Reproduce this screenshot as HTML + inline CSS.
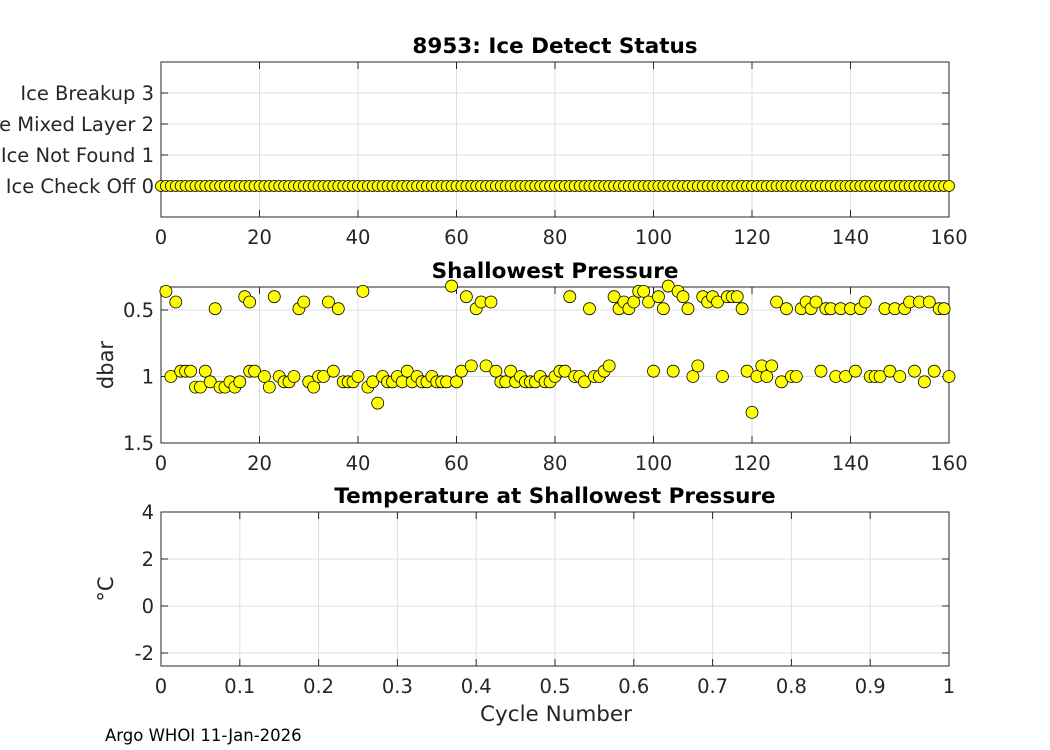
<!DOCTYPE html>
<html><head><meta charset="utf-8"><style>
html,body{margin:0;padding:0;background:#fff;}
svg{display:block;font-family:"DejaVu Sans","Liberation Sans",sans-serif;}
</style></head><body>
<svg id="fig" width="1050" height="750" viewBox="0 0 1050 750" xmlns="http://www.w3.org/2000/svg"></svg>
<script>
const iceCycles = Array.from({length:161},(_,i)=>i);
const iceStatus = iceCycles.map(()=>0);
const iceTickVals = [0,1,2,3];
const iceTickLabels = ["Ice Check Off 0","Ice Not Found 1","Ice Mixed Layer 2","Ice Breakup 3"];
const presCycles = [1,3,11,17,18,23,28,29,34,36,41,59,62,64,65,67,83,87,92,93,94,95,96,97,98,99,101,102,103,105,106,107,110,111,112,113,115,116,117,118,125,127,130,131,132,133,135,136,138,140,142,143,147,149,151,152,154,156,158,159,
2,4,5,6,7,8,9,10,12,13,14,15,16,18,19,21,22,24,25,26,27,30,31,32,33,35,37,38,39,40,42,43,44,45,46,47,48,49,50,51,52,53,54,55,56,57,58,60,61,63,66,68,69,70,71,72,73,74,75,76,77,78,79,80,81,82,84,85,86,88,89,90,91,100,104,108,109,114,119,120,121,122,123,124,126,128,129,134,137,139,141,144,145,146,148,150,153,155,157,160];
const presValues = [0.36,0.44,0.49,0.40,0.44,0.40,0.49,0.44,0.44,0.49,0.36,0.32,0.40,0.49,0.44,0.44,0.40,0.49,0.40,0.49,0.44,0.49,0.44,0.36,0.36,0.44,0.40,0.49,0.32,0.36,0.40,0.49,0.40,0.44,0.40,0.44,0.40,0.40,0.40,0.49,0.44,0.49,0.49,0.44,0.49,0.44,0.49,0.49,0.49,0.49,0.49,0.44,0.49,0.49,0.49,0.44,0.44,0.44,0.49,0.49,
1.0,0.96,0.96,0.96,1.08,1.08,0.96,1.04,1.08,1.08,1.04,1.08,1.04,0.96,0.96,1.0,1.08,1.0,1.04,1.04,1.0,1.04,1.08,1.0,1.0,0.96,1.04,1.04,1.04,1.0,1.08,1.04,1.2,1.0,1.04,1.04,1.0,1.04,0.96,1.04,1.0,1.04,1.04,1.0,1.04,1.04,1.04,1.04,0.96,0.92,0.92,0.96,1.04,1.04,0.96,1.04,1.0,1.04,1.04,1.04,1.0,1.04,1.04,1.0,0.96,0.96,1.0,1.0,1.04,1.0,1.0,0.96,0.92,0.96,0.96,1.0,0.92,1.0,0.96,1.27,1.0,0.92,1.0,0.92,1.04,1.0,1.0,0.96,1.0,1.0,0.96,1.0,1.0,1.0,0.96,1.0,0.96,1.04,0.96,1.0];
const presTicks = [0.5,1,1.5];
const tempTicks = [-2,0,2,4];
const cycTicks = [0,20,40,60,80,100,120,140,160];
const unitTicks = [0,0.1,0.2,0.3,0.4,0.5,0.6,0.7,0.8,0.9,1];

const NS="http://www.w3.org/2000/svg";
const svg=document.getElementById('fig');
function el(tag,attrs,parent){const e=document.createElementNS(NS,tag);for(const k in attrs)e.setAttribute(k,attrs[k]);(parent||svg).appendChild(e);return e;}
function txt(s,attrs,parent){const t=el('text',attrs,parent);t.textContent=s;return t;}
const L=161,R=949;

function panel(name,top,bot,xmin,xmax,ymin,ymax,reversed,xt,xlabels,yt,ylabels,title,ylabel){
  const g=el('g',{});
  
  
  const xs=v=>L+(v-xmin)/(xmax-xmin)*(R-L);
  const ys=reversed?(v=>top+(v-ymin)/(ymax-ymin)*(bot-top)):(v=>bot-(v-ymin)/(ymax-ymin)*(bot-top));
  el('rect',{x:L,y:top,width:R-L,height:bot-top,fill:'#fff'},g);
  const grid=el('g',{},g);
  
  
  xt.forEach((v,i)=>{const x=xs(v);
    el('line',{x1:x,x2:x,y1:top,y2:bot,stroke:'#dfdfdf','stroke-width':1},grid);
    el('line',{x1:x,x2:x,y1:bot,y2:bot-7,stroke:'#262626'},g);
    el('line',{x1:x,x2:x,y1:top,y2:top+7,stroke:'#262626'},g);
    const t=txt(xlabels[i],{x:x,y:bot+27,'font-size':19.5,'text-anchor':'middle',fill:'#262626'},g);
    
    
  });
  yt.forEach((v,i)=>{const y=ys(v);
    el('line',{x1:L,x2:R,y1:y,y2:y,stroke:'#dfdfdf','stroke-width':1},grid);
    el('line',{x1:L,x2:L+7,y1:y,y2:y,stroke:'#262626'},g);
    el('line',{x1:R,x2:R-7,y1:y,y2:y,stroke:'#262626'},g);
    const t=txt(ylabels[i],{x:L-7,y:y+7,'font-size':19.5,'text-anchor':'end',fill:'#262626'},g);
    
    
  });
  el('rect',{x:L,y:top,width:R-L,height:bot-top,fill:'none',stroke:'#262626','stroke-width':1},g);
  const tt=txt(title,{x:(L+R)/2,y:top-9,'font-size':21.5,'font-weight':'bold','text-anchor':'middle',fill:'#000'},g);
  
  
  if(ylabel){const cy=(top+bot)/2;
    const yl=txt(ylabel,{x:113,y:cy,'font-size':21,'text-anchor':'middle',fill:'#262626',transform:`rotate(-90 113 ${cy})`},g);
    
    
  }
  return {g,xs,ys};
}

const p1=panel('ice-status-panel',62,217,0,160,-1,4,false,cycTicks,cycTicks.map(String),iceTickVals,iceTickLabels,'8953: Ice Detect Status',null);
iceCycles.forEach((c,i)=>{
  const m=el('circle',{cx:p1.xs(c),cy:p1.ys(iceStatus[i]),r:5.5,fill:'#ffff00',stroke:'#000','stroke-width':0.8},p1.g);
  
  
});

const p2=panel('shallowest-pressure-panel',287,443,0,160,0.327,1.5,true,cycTicks,cycTicks.map(String),presTicks,['0.5','1','1.5'],'Shallowest Pressure','dbar');
const cp=el('clipPath',{id:'clp2'},svg);el('rect',{x:L-8,y:287-8,width:R-L+16,height:443-287+16},cp);
const mg=el('g',{'clip-path':'url(#clp2)'},p2.g);
presCycles.forEach((c,i)=>{
  const m=el('circle',{cx:p2.xs(c),cy:p2.ys(presValues[i]),r:6,fill:'#ffff00',stroke:'#000','stroke-width':0.8},mg);
  
  
});

const p3=panel('temperature-panel',512,666,0,1,-2.553,4,false,unitTicks,unitTicks.map(String),tempTicks,tempTicks.map(String),'Temperature at Shallowest Pressure','°C');

const xl=txt('Cycle Number',{x:556,y:721,'font-size':21.5,'text-anchor':'middle',fill:'#262626'});


const ft=txt('Argo WHOI 11-Jan-2026',{x:105,y:741,'font-size':16.5,fill:'#000'});


</script>
</body></html>
